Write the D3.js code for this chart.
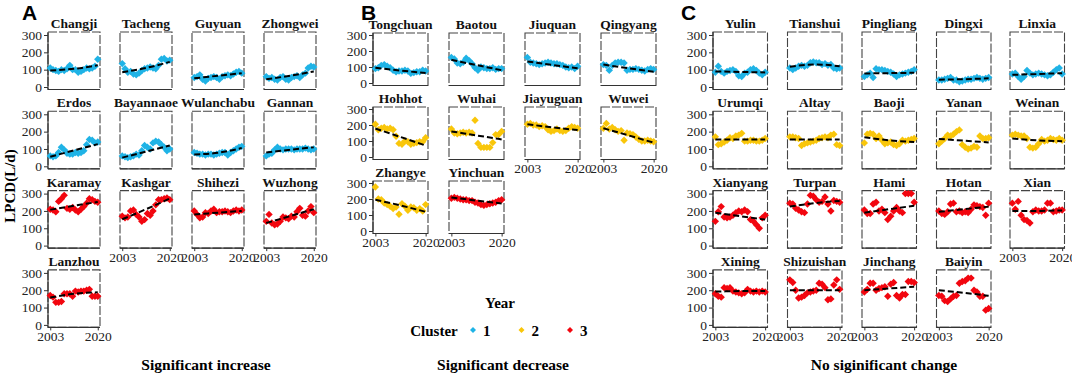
<!DOCTYPE html>
<html>
<head>
<meta charset="utf-8">
<script src="https://cdn.jsdelivr.net/npm/d3@7"></script>
<style>
  body { margin: 0; background: #fff; }
  text { font-family: "Liberation Serif", "Tinos", "Times New Roman", "DejaVu Serif", serif; }
</style>
</head>
<body>
<svg id="chart" width="1072" height="375"></svg>
<script>
// years on the x axis, knots used for the dashed trend lines
var years = d3.range(2003, 2021);
var trendYears = [2003, 2011.5, 2020];
var yTicks = [0, 100, 200, 300];
var xTicks = [2003, 2020];
var clusterColor = { 1: "#1fb3e6", 2: "#f9c60a", 3: "#f2060f" };
var serif = '"Liberation Serif", "Times New Roman", serif';

// ---- A: significant increase
var citiesA = ["Changji", "Tacheng", "Guyuan", "Zhongwei", "Erdos", "Bayannaoe", "Wulanchabu", "Gannan",
               "Karamay", "Kashgar", "Shihezi", "Wuzhong", "Lanzhou"];
var clustersA = [1, 1, 1, 1, 1, 1, 1, 1, 3, 3, 3, 3, 3];
var valuesA = [
  [110, 100, 95, 90, 100, 95, 105, 125, 100, 100, 85, 90, 100, 110, 105, 110, 120, 160],
  [135, 105, 85, 90, 75, 70, 80, 95, 105, 110, 115, 110, 105, 125, 160, 165, 150, 155],
  [55, 60, 70, 45, 35, 50, 55, 60, 55, 45, 60, 65, 70, 65, 75, 85, 90, 80],
  [60, 50, 55, 45, 40, 55, 60, 45, 40, 55, 60, 65, 55, 70, 80, 110, 120, 115],
  [60, 55, 60, 80, 110, 95, 75, 70, 70, 80, 75, 80, 90, 125, 155, 150, 135, 140],
  [60, 55, 50, 55, 60, 70, 65, 90, 120, 110, 100, 135, 145, 140, 125, 110, 90, 100],
  [80, 75, 70, 70, 65, 70, 70, 65, 70, 75, 80, 80, 65, 80, 90, 100, 110, 115],
  [60, 70, 75, 95, 110, 100, 95, 100, 100, 100, 95, 100, 100, 100, 105, 100, 95, 100],
  [210, 205, 195, 255, 270, 290, 215, 210, 220, 205, 195, 210, 225, 245, 270, 265, 255, 250],
  [170, 160, 165, 200, 205, 180, 165, 140, 150, 185, 175, 200, 235, 265, 265, 270, 275, 265],
  [200, 180, 160, 165, 190, 185, 200, 210, 190, 195, 195, 200, 195, 190, 200, 205, 200, 205],
  [140, 180, 130, 120, 125, 140, 165, 160, 155, 170, 165, 195, 215, 175, 170, 200, 225, 190],
  [170, 160, 130, 130, 135, 180, 180, 180, 165, 195, 190, 195, 195, 200, 205, 165, 165, 165]
];
var trendA = [
  [95, 105, 125], [85, 110, 145], [50, 65, 80], [45, 65, 90],
  [55, 92, 128], [50, 85, 120], [68, 78, 105], [80, 95, 110],
  [207, 230, 252], [152, 210, 272], [180, 190, 200], [130, 170, 210],
  [158, 180, 188]
];

// ---- B: significant decrease
var citiesB = ["Tongchuan", "Baotou", "Jiuquan", "Qingyang", "Hohhot", "Wuhai", "Jiayuguan", "Wuwei",
               "Zhangye", "Yinchuan"];
var clustersB = [1, 1, 1, 1, 2, 2, 2, 2, 2, 3];
var valuesB = [
  [90, 95, 110, 115, 105, 95, 80, 70, 75, 75, 80, 75, 60, 65, 70, 70, 80, 75],
  [160, 150, 125, 120, 130, 155, 140, 120, 95, 80, 100, 95, 90, 90, 95, 85, 90, 90],
  [160, 130, 125, 120, 115, 120, 125, 130, 125, 120, 120, 115, 110, 100, 95, 100, 90, 105],
  [115, 110, 80, 110, 125, 130, 130, 125, 80, 85, 85, 90, 85, 80, 75, 85, 90, 85],
  [205, 170, 180, 185, 175, 180, 170, 130, 85, 80, 100, 95, 80, 85, 90, 95, 95, 120],
  [175, 150, 145, 150, 155, 150, 155, 150, 230, 85, 60, 60, 60, 60, 90, 140, 140, 160],
  [205, 210, 200, 200, 190, 195, 190, 170, 160, 165, 175, 165, 160, 165, 180, 190, 185, 180],
  [180, 210, 175, 185, 170, 160, 165, 105, 150, 145, 140, 125, 110, 100, 100, 105, 100, 95],
  [275, 200, 195, 175, 165, 155, 140, 150, 105, 170, 155, 130, 150, 145, 130, 140, 125, 165],
  [205, 210, 205, 200, 195, 195, 190, 190, 180, 175, 165, 160, 165, 170, 175, 180, 190, 195]
];
var trendB = [
  [95, 78, 62], [145, 112, 80], [135, 113, 92], [115, 92, 70],
  [178, 125, 72], [160, 135, 110], [205, 185, 168], [180, 135, 90],
  [195, 160, 120], [210, 190, 172]
];

// ---- C: no significant change
var citiesC = ["Yulin", "Tianshui", "Pingliang", "Dingxi", "Linxia", "Urumqi", "Altay", "Baoji", "Yanan", "Weinan",
               "Xianyang", "Turpan", "Hami", "Hotan", "Xian", "Xining", "Shizuishan", "Jinchang", "Baiyin"];
var clustersC = [1, 1, 1, 1, 1, 2, 2, 2, 2, 2, 3, 3, 3, 3, 3, 3, 3, 3, 3];
var valuesC = [
  [85, 120, 90, 80, 90, 95, 100, 90, 65, 60, 80, 85, 100, 105, 95, 80, 70, 85],
  [110, 100, 110, 120, 125, 120, 125, 140, 145, 140, 140, 130, 135, 125, 130, 110, 105, 110],
  [60, 70, 80, 55, 105, 100, 100, 95, 90, 85, 75, 60, 70, 75, 80, 85, 90, 100],
  [40, 40, 45, 50, 55, 40, 40, 30, 35, 40, 45, 45, 50, 55, 50, 45, 50, 55],
  [75, 80, 60, 45, 60, 95, 80, 70, 75, 80, 75, 70, 65, 70, 85, 100, 110, 75],
  [170, 125, 130, 140, 150, 165, 160, 175, 180, 190, 145, 145, 150, 150, 145, 145, 150, 160],
  [170, 170, 165, 160, 120, 130, 135, 140, 145, 150, 160, 165, 170, 165, 180, 185, 125, 120],
  [135, 185, 190, 185, 160, 175, 150, 130, 135, 140, 125, 120, 130, 150, 145, 150, 155, 160],
  [130, 145, 160, 180, 175, 185, 200, 210, 125, 110, 100, 105, 115, 110, 175, 160, 160, 165],
  [180, 185, 180, 175, 175, 160, 110, 105, 110, 130, 155, 145, 150, 160, 155, 150, 160, 150],
  [140, 195, 225, 165, 160, 165, 175, 190, 200, 195, 205, 195, 150, 140, 120, 100, 160, 175],
  [245, 240, 215, 205, 195, 190, 240, 290, 285, 265, 250, 255, 280, 240, 200, 260, 255, 250],
  [205, 185, 185, 240, 250, 200, 210, 190, 150, 170, 200, 220, 200, 190, 300, 300, 300, 250],
  [200, 185, 180, 195, 240, 245, 195, 200, 190, 195, 190, 210, 235, 230, 225, 220, 175, 245],
  [245, 210, 255, 175, 150, 145, 130, 195, 205, 200, 200, 205, 245, 245, 195, 200, 205, 205],
  [180, 165, 160, 215, 210, 215, 195, 190, 185, 180, 185, 205, 195, 190, 195, 190, 195, 190],
  [260, 245, 200, 155, 160, 170, 185, 190, 195, 200, 240, 235, 215, 145, 150, 230, 260, 205],
  [190, 205, 240, 240, 200, 210, 215, 220, 165, 235, 245, 170, 155, 175, 175, 250, 250, 245],
  [170, 165, 140, 135, 150, 165, 170, 240, 250, 255, 270, 270, 200, 190, 165, 165, 85, 95]
];
var trendC = [
  [90, 87, 84], [117, 130, 120], [78, 80, 82], [42, 45, 50], [70, 75, 80],
  [155, 155, 155], [155, 155, 155], [168, 150, 140], [158, 148, 138], [160, 150, 145],
  [190, 170, 150], [225, 245, 258], [190, 210, 230], [195, 210, 225], [200, 200, 203],
  [192, 195, 196], [200, 200, 200], [200, 210, 220], [200, 185, 168]
];

var legendClusters = [1, 2, 3];

var svg = d3.select("#chart");

function diamond(r) {
    return "M0," + (-r) + "L" + r + ",0L0," + r + "L" + (-r) + ",0Z";
}

function drawGroup(cfg) {
    var g = svg.append("g");
    var n = cfg.cities.length;

    cfg.cities.forEach(function(city, i) {
        var col = i % cfg.ncol, row = Math.floor(i / cfg.ncol);
        var left = cfg.lefts[col], top = cfg.top0 + row * cfg.rowStep;
        var bottom = top + cfg.h;

        var x = d3.scaleLinear().domain([2002.2, 2020.8]).range([left, left + cfg.w]);
        var y = d3.scaleLinear().domain([0, 300]).range([top + cfg.y0, top + cfg.y300]);

        var p = g.append("g");

        // panel border (dashed) and the solid axis lines
        p.append("rect")
            .attr("x", left).attr("y", top)
            .attr("width", cfg.w).attr("height", cfg.h)
            .attr("fill", "none")
            .attr("stroke", "#444")
            .attr("stroke-width", 1.1)
            .attr("stroke-dasharray", "9,2");
        p.append("line")
            .attr("x1", left).attr("x2", left + cfg.w)
            .attr("y1", bottom).attr("y2", bottom)
            .attr("stroke", "#333").attr("stroke-width", 1.2);
        if (col == 0) {
            p.append("line")
                .attr("x1", left).attr("x2", left)
                .attr("y1", top).attr("y2", bottom)
                .attr("stroke", "#333").attr("stroke-width", 1.2);
            var ya = p.append("g")
                .attr("transform", "translate(" + left + ",0)")
                .call(d3.axisLeft(y).tickValues(yTicks).tickSize(4).tickSizeOuter(0).tickPadding(2));
            ya.attr("font-family", serif);
            ya.select(".domain").remove();
            ya.selectAll("text")
                .style("font-size", "13.5px")
                .attr("fill", "#222");
            ya.selectAll("line").attr("stroke", "#333");
        }

        // x axis only on the lowest panel of each column
        if (i + cfg.ncol >= n) {
            var xa = p.append("g")
                .attr("transform", "translate(0," + bottom + ")")
                .call(d3.axisBottom(x).tickValues(xTicks).tickFormat(d3.format("d")).tickSize(3).tickSizeOuter(0).tickPadding(1));
            xa.attr("font-family", serif);
            xa.select(".domain").remove();
            xa.selectAll("text")
                .style("font-size", "13.5px")
                .attr("fill", "#222");
            xa.selectAll("line").attr("stroke", "#333");
        }

        // strip title
        p.append("text")
            .attr("x", left + cfg.w / 2)
            .attr("y", top - 4)
            .attr("text-anchor", "middle")
            .style("font-size", "13.5px")
            .style("font-weight", "bold")
            .attr("fill", "#111")
            .text(city);

        // points
        var vals = cfg.values[i];
        p.selectAll("path.pt")
            .data(years)
        .enter()
            .append("path")
            .attr("class", "pt")
            .attr("d", diamond(3.7))
            .attr("transform", function(d, k) {
                return "translate(" + x(d) + "," + y(vals[k]) + ")";
            })
            .attr("fill", clusterColor[cfg.clusters[i]]);

        // dashed trend line
        var line = d3.line()
            .x(function(d, k) { return x(trendYears[k]); })
            .y(function(d) { return y(d); })
            .curve(d3.curveNatural);
        p.append("path")
            .attr("d", line(cfg.trend[i]))
            .attr("fill", "none")
            .attr("stroke", "#000")
            .attr("stroke-width", 2)
            .attr("stroke-dasharray", "6,3");
    });

    // panel letter and bottom caption
    svg.append("text")
        .attr("x", cfg.letterX).attr("y", 20)
        .style("font-family", "Liberation Sans")
        .style("font-weight", "bold")
        .style("font-size", "21px")
        .text(cfg.letter);
    svg.append("text")
        .attr("x", cfg.captionX).attr("y", 370)
        .attr("text-anchor", "middle")
        .style("font-weight", "bold")
        .style("font-size", "15.5px")
        .text(cfg.caption);
}

drawGroup({
    cities: citiesA, clusters: clustersA, values: valuesA, trend: trendA,
    ncol: 4, lefts: [48, 120, 192, 264], w: 52,
    top0: 32, rowStep: 79.3, h: 57.5, y0: 55, y300: 3,
    letter: "A", letterX: 22, caption: "Significant increase", captionX: 206
});
drawGroup({
    cities: citiesB, clusters: clustersB, values: valuesB, trend: trendB,
    ncol: 4, lefts: [373, 449, 525, 601], w: 55,
    top0: 33, rowStep: 74, h: 52.5, y0: 50, y300: 2,
    letter: "B", letterX: 361, caption: "Significant decrease", captionX: 503
});
drawGroup({
    cities: citiesC, clusters: clustersC, values: valuesC, trend: trendC,
    ncol: 5, lefts: [713, 787.5, 862, 936.5, 1010], w: 54.5,
    top0: 32, rowStep: 79.3, h: 57.5, y0: 55, y300: 3,
    letter: "C", letterX: 681, caption: "No siginificant change", captionX: 884
});

// y axis title
svg.append("text")
    .attr("transform", "translate(15,186) rotate(-90)")
    .attr("text-anchor", "middle")
    .style("font-weight", "bold")
    .style("font-size", "15px")
    .text("LPCD(L/d)");

// legend
svg.append("text")
    .attr("x", 500).attr("y", 308)
    .attr("text-anchor", "middle")
    .style("font-weight", "bold")
    .style("font-size", "15px")
    .text("Year");
svg.append("text")
    .attr("x", 434).attr("y", 336)
    .attr("text-anchor", "middle")
    .style("font-weight", "bold")
    .style("font-size", "15px")
    .text("Cluster");
var legendX = d3.scalePoint().domain(legendClusters).range([473, 570]);
var leg = svg.selectAll("g.leg")
        .data(legendClusters)
    .enter()
        .append("g")
        .attr("class", "leg")
        .attr("transform", function(d) { return "translate(" + legendX(d) + ",330)"; });
leg.append("path")
    .attr("d", diamond(3))
    .attr("fill", function(d) { return clusterColor[d]; });
leg.append("text")
    .attr("x", 10).attr("y", 6)
    .style("font-weight", "bold")
    .style("font-size", "15px")
    .text(function(d) { return d; });
</script>
</body>
</html>
